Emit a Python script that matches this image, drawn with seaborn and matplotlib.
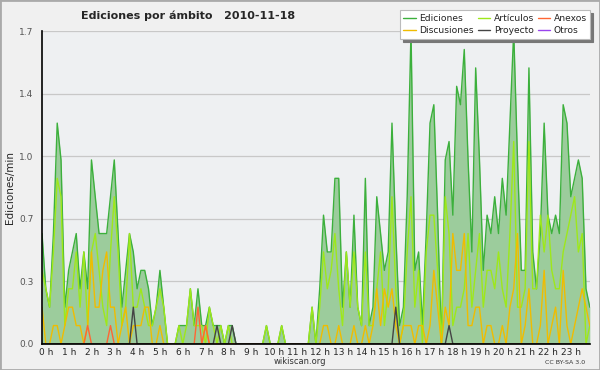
import numpy as np
import pandas as pd
import matplotlib
matplotlib.use("Agg")
import matplotlib.pyplot as plt
import matplotlib.transforms as mtransforms
from matplotlib.ticker import MultipleLocator, FixedLocator
import seaborn as sns

# edits per minute, 10-minute bins, 2010-11-18 00:00 .. 24:00
ediciones = [
    0.6, 0.3, 0.2, 0.6, 1.2, 1.0, 0.2, 0.4, 0.5, 0.6,
    0.3, 0.5, 0.3, 1.0, 0.8, 0.6, 0.6, 0.6, 0.8, 1.0,
    0.6, 0.2, 0.4, 0.6, 0.5, 0.3, 0.4, 0.4, 0.3, 0.1,
    0.2, 0.4, 0.2, 0.0, 0.0, 0.0, 0.1, 0.1, 0.1, 0.3,
    0.1, 0.3, 0.1, 0.1, 0.2, 0.1, 0.1, 0.1, 0.0, 0.1,
    0.1, 0.0, 0.0, 0.0, 0.0, 0.0, 0.0, 0.0, 0.0, 0.1,
    0.0, 0.0, 0.0, 0.1, 0.0, 0.0, 0.0, 0.0, 0.0, 0.0,
    0.0, 0.2, 0.0, 0.3, 0.7, 0.5, 0.5, 0.9, 0.9, 0.2,
    0.5, 0.2, 0.7, 0.2, 0.1, 0.9, 0.1, 0.2, 0.8, 0.6,
    0.4, 0.5, 1.2, 0.6, 0.1, 0.2, 0.8, 1.7, 0.4, 0.5,
    0.1, 0.6, 1.2, 1.3, 0.7, 0.0, 1.0, 1.1, 0.7, 1.4,
    1.3, 1.6, 1.0, 0.5, 1.5, 1.0, 0.4, 0.7, 0.6, 0.8,
    0.6, 0.9, 0.7, 1.2, 1.7, 1.0, 0.4, 0.4, 1.5, 0.5,
    0.3, 0.6, 1.2, 0.7, 0.6, 0.7, 0.6, 1.3, 1.2, 0.8,
    0.9, 1.0, 0.9, 0.3, 0.2,
]
articulos = [
    0.4, 0.3, 0.2, 0.5, 0.9, 0.8, 0.1, 0.3, 0.3, 0.5,
    0.2, 0.5, 0.1, 0.5, 0.6, 0.4, 0.2, 0.1, 0.5, 0.8,
    0.5, 0.1, 0.2, 0.6, 0.2, 0.2, 0.3, 0.2, 0.1, 0.1,
    0.2, 0.3, 0.2, 0.0, 0.0, 0.0, 0.1, 0.0, 0.1, 0.3,
    0.1, 0.1, 0.1, 0.0, 0.2, 0.1, 0.0, 0.1, 0.0, 0.1,
    0.0, 0.0, 0.0, 0.0, 0.0, 0.0, 0.0, 0.0, 0.0, 0.1,
    0.0, 0.0, 0.0, 0.1, 0.0, 0.0, 0.0, 0.0, 0.0, 0.0,
    0.0, 0.2, 0.0, 0.2, 0.5, 0.3, 0.4, 0.6, 0.3, 0.1,
    0.5, 0.2, 0.5, 0.2, 0.1, 0.5, 0.1, 0.1, 0.3, 0.5,
    0.1, 0.3, 0.8, 0.3, 0.0, 0.1, 0.5, 0.8, 0.2, 0.4,
    0.0, 0.5, 0.7, 0.7, 0.4, 0.0, 0.8, 0.6, 0.1, 0.2,
    0.2, 0.3, 0.6, 0.2, 0.4, 0.6, 0.2, 0.4, 0.4, 0.3,
    0.5, 0.3, 0.2, 0.6, 1.1, 0.2, 0.2, 0.3, 1.1, 0.3,
    0.3, 0.7, 0.5, 0.7, 0.4, 0.3, 0.3, 0.5, 0.6, 0.7,
    0.8, 0.5, 0.6, 0.0, 0.1,
]
discusiones = [
    0.2, 0.0, 0.0, 0.1, 0.1, 0.0, 0.1, 0.2, 0.2, 0.1,
    0.1, 0.0, 0.1, 0.5, 0.2, 0.2, 0.4, 0.5, 0.2, 0.2,
    0.0, 0.1, 0.2, 0.0, 0.1, 0.1, 0.1, 0.2, 0.2, 0.0,
    0.0, 0.1, 0.0, 0.0, 0.0, 0.0, 0.0, 0.0, 0.0, 0.0,
    0.0, 0.0, 0.0, 0.1, 0.0, 0.0, 0.0, 0.0, 0.0, 0.0,
    0.0, 0.0, 0.0, 0.0, 0.0, 0.0, 0.0, 0.0, 0.0, 0.0,
    0.0, 0.0, 0.0, 0.0, 0.0, 0.0, 0.0, 0.0, 0.0, 0.0,
    0.0, 0.0, 0.0, 0.0, 0.1, 0.1, 0.0, 0.0, 0.1, 0.0,
    0.0, 0.0, 0.1, 0.0, 0.0, 0.1, 0.0, 0.1, 0.3, 0.1,
    0.3, 0.2, 0.3, 0.1, 0.0, 0.1, 0.1, 0.1, 0.0, 0.1,
    0.1, 0.0, 0.1, 0.4, 0.2, 0.0, 0.2, 0.1, 0.6, 0.4,
    0.4, 0.6, 0.1, 0.1, 0.2, 0.2, 0.0, 0.1, 0.1, 0.0,
    0.0, 0.1, 0.0, 0.2, 0.3, 0.6, 0.0, 0.1, 0.3, 0.0,
    0.0, 0.1, 0.4, 0.0, 0.1, 0.2, 0.0, 0.4, 0.1, 0.0,
    0.1, 0.2, 0.3, 0.2, 0.1,
]
# sparse series: bin index -> value
anexos_bins = {12: 0.1, 18: 0.1, 41: 0.2, 43: 0.1}
proyecto_bins = {24: 0.2, 46: 0.1, 50: 0.1, 93: 0.2, 107: 0.1}
otros_bins = {}

hour_labels = [f"{h} h" for h in range(24)]
y_ticks = [0.0, 0.34, 0.68, 1.02, 1.36, 1.7]


def sparse(bins, n):
    s = np.zeros(n)
    for k, v in bins.items():
        s[k] = v
    return s


n = len(ediciones)
df = pd.DataFrame({
    "hora": np.arange(n) / 6,
    "Ediciones": ediciones,
    "Artículos": articulos,
    "Discusiones": discusiones,
    "Anexos": sparse(anexos_bins, n),
    "Proyecto": sparse(proyecto_bins, n),
    "Otros": sparse(otros_bins, n),
})

colors = {
    "Ediciones": "#3cb03c",
    "Artículos": "#9ee81a",
    "Discusiones": "#f0bc00",
    "Anexos": "#ff6633",
    "Proyecto": "#444444",
    "Otros": "#9944ee",
}

sns.set_style("white")
plt.rcParams["font.family"] = ["DejaVu Sans"]

fig = plt.figure(figsize=(6, 3.7), dpi=100, facecolor="#f0f0f0")
ax = fig.add_axes([0.07, 0.0703, 0.913, 0.8457])
ax.set_facecolor("#eef0f2")

ax.fill_between(df["hora"], df["Ediciones"], color="#9ccc9c", lw=0, zorder=1)
for name in ["Otros", "Ediciones", "Artículos", "Discusiones", "Anexos", "Proyecto"]:
    sns.lineplot(data=df, x="hora", y=name, ax=ax, color=colors[name],
                 lw=1.0, label=name, legend=False, zorder=3)

ax.set_xlim(0, 24)
ax.set_ylim(0, 1.7)
ax.yaxis.set_major_locator(FixedLocator(y_ticks))
ax.set_yticklabels([f"{v:.1f}" for v in y_ticks])
ax.yaxis.set_minor_locator(MultipleLocator(0.085))
ax.xaxis.set_major_locator(FixedLocator(range(24)))
ax.set_xticklabels(hour_labels)
ax.xaxis.set_minor_locator(MultipleLocator(1 / 6))

ax.grid(axis="y", color="#c8c8c8", lw=0.9, zorder=0)
ax.grid(axis="x", visible=False)
ax.set_axisbelow(True)
for side in ["top", "right"]:
    ax.spines[side].set_visible(False)
for side in ["left", "bottom"]:
    ax.spines[side].set_color("black")
    ax.spines[side].set_linewidth(1.2)
    ax.spines[side].set_zorder(5)

ax.tick_params(axis="y", which="major", direction="out", length=5, width=1,
               labelsize=6.5, labelcolor="#555555", pad=1)
ax.tick_params(axis="y", which="minor", direction="out", length=4, width=1)
ax.tick_params(axis="x", which="major", direction="out", length=3, width=1,
               labelsize=6.5, pad=0)
ax.tick_params(axis="x", which="minor", direction="out", length=3, width=1)
shift = mtransforms.ScaledTranslation(4 / 100, 0, fig.dpi_scale_trans)
for lbl in ax.get_xticklabels():
    lbl.set_transform(lbl.get_transform() + shift)

ax.set_xlabel("")
ax.set_ylabel("Ediciones/min", fontsize=7.5, labelpad=3)

fig.text(188 / 600, 1 - 16 / 370, "Ediciones por ámbito   2010-11-18",
         ha="center", va="center", fontsize=8, fontweight="bold")
fig.text(300 / 600, 1 - 362 / 370, "wikiscan.org", ha="center", va="center",
         fontsize=6, color="#333333")
fig.text(565 / 600, 1 - 362 / 370, "CC BY-SA 3.0", ha="center", va="center",
         fontsize=4.5, color="#333333")

order = ["Ediciones", "Discusiones", "Artículos", "Proyecto", "Anexos", "Otros"]
handles = [plt.Line2D([], [], color=colors[k], lw=1.0) for k in order]
leg = fig.legend(handles, order, loc="upper right", ncol=3,
                 bbox_to_anchor=(0.984, 0.972), fontsize=6.6, frameon=True,
                 fancybox=False, shadow={"color": "#777777", "alpha": 1},
                 handlelength=1.4, handletextpad=0.35, columnspacing=0.4,
                 labelspacing=0.35, borderpad=0.4, borderaxespad=0)
leg.get_frame().set_edgecolor("#bbbbbb")
leg.get_frame().set_linewidth(0.8)
for t in leg.get_texts():
    t.set_color("#222222")

fig.patches.append(plt.Rectangle((0, 0), 1, 1, transform=fig.transFigure,
                                 fill=False, edgecolor="#aaaaaa", lw=2))

fig.savefig("out.png", dpi=100, facecolor=fig.get_facecolor())
